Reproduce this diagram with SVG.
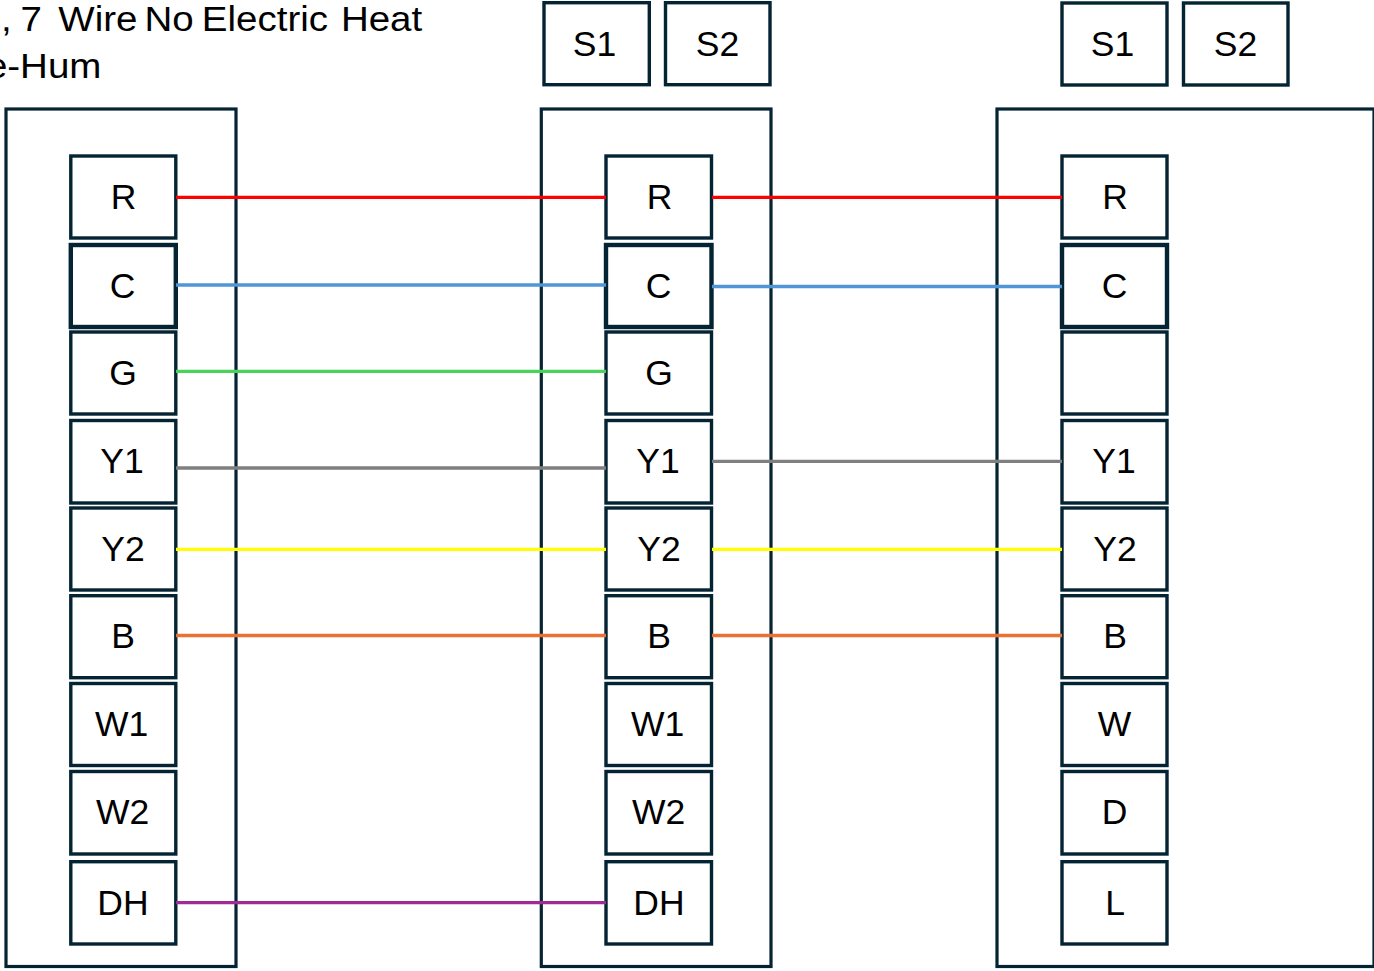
<svg xmlns="http://www.w3.org/2000/svg" width="1374" height="971" viewBox="0 0 1374 971">
<style>
.frame{fill:#fff;stroke:#042433;stroke-width:3.2}
.box{fill:#fff;stroke:#042433;stroke-width:3.4}
.thick{stroke-width:4.4}
text{font-family:"Liberation Sans",Arial,sans-serif;fill:#000}
.lab{font-size:35.500px;text-anchor:middle}
.title{font-size:35.500px}
.w{fill:none;stroke-width:3.300}
</style>
<rect width="1374" height="971" fill="#fff"/>
<g id="title" transform="scale(1.085 1)"><text class="title" y="30.700"><tspan x="1">, </tspan><tspan dx="-1.800">7 </tspan><tspan x="53.800">Wire </tspan><tspan x="133.200">No </tspan><tspan x="186">Electric </tspan><tspan x="314.200">Heat</tspan></text><text class="title" y="77.700"><tspan x="-13">e-Hum</tspan></text></g>
<g id="frames"><rect class="frame" x="6" y="109" width="230" height="857.500"/><rect class="frame" x="541.300" y="109" width="229.700" height="857.500"/><rect class="frame" x="997" y="109" width="377" height="857.500"/></g>
<g id="left">
<g id="l-r"><rect class="box" x="70.800" y="156" width="105" height="82"/><text class="lab" x="123.500" y="209">R</text></g>
<g id="l-c"><rect class="box thick" x="70.800" y="245" width="105" height="82"/><text class="lab" x="122.500" y="297.500">C</text></g>
<g id="l-g"><rect class="box" x="70.800" y="332" width="105" height="82"/><text class="lab" x="123" y="385.300">G</text></g>
<g id="l-y1"><rect class="box" x="70.800" y="420.500" width="105" height="82.500"/><text class="lab" x="122" y="473.300">Y1</text></g>
<g id="l-y2"><rect class="box" x="70.800" y="508" width="105" height="82"/><text class="lab" x="123" y="560.800">Y2</text></g>
<g id="l-b"><rect class="box" x="70.800" y="595.700" width="105" height="82"/><text class="lab" x="123" y="648.300">B</text></g>
<g id="l-w1"><rect class="box" x="70.800" y="683.500" width="105" height="82"/><text class="lab" x="121.500" y="736">W1</text></g>
<g id="l-w2"><rect class="box" x="70.800" y="771.500" width="105" height="82.500"/><text class="lab" x="122.500" y="824">W2</text></g>
<g id="l-dh"><rect class="box" x="70.800" y="861.700" width="105" height="82.300"/><text class="lab" x="123" y="915.300">DH</text></g>
</g>
<g id="mid">
<g id="m-s1"><rect class="box" x="544" y="2.700" width="105.300" height="82"/><text class="lab" x="594.500" y="56.200">S1</text></g>
<g id="m-s2"><rect class="box" x="665.500" y="2.700" width="104.500" height="82"/><text class="lab" x="717.500" y="56.200">S2</text></g>
<g id="m-r"><rect class="box" x="606" y="156" width="105.500" height="82"/><text class="lab" x="659.500" y="209">R</text></g>
<g id="m-c"><rect class="box thick" x="606" y="245" width="105.500" height="82"/><text class="lab" x="658.500" y="297.500">C</text></g>
<g id="m-g"><rect class="box" x="606" y="332" width="105.500" height="82"/><text class="lab" x="659" y="385.300">G</text></g>
<g id="m-y1"><rect class="box" x="606" y="420.500" width="105.500" height="82.500"/><text class="lab" x="658" y="473.300">Y1</text></g>
<g id="m-y2"><rect class="box" x="606" y="508" width="105.500" height="82"/><text class="lab" x="659" y="560.800">Y2</text></g>
<g id="m-b"><rect class="box" x="606" y="595.700" width="105.500" height="82"/><text class="lab" x="659" y="648.300">B</text></g>
<g id="m-w1"><rect class="box" x="606" y="683.500" width="105.500" height="82"/><text class="lab" x="657.500" y="736">W1</text></g>
<g id="m-w2"><rect class="box" x="606" y="771.500" width="105.500" height="82.500"/><text class="lab" x="658.500" y="824">W2</text></g>
<g id="m-dh"><rect class="box" x="606" y="861.700" width="105.500" height="82.300"/><text class="lab" x="659" y="915.300">DH</text></g>
</g>
<g id="right">
<g id="r-s1"><rect class="box" x="1062" y="3" width="105" height="82"/><text class="lab" x="1112.500" y="56.200">S1</text></g>
<g id="r-s2"><rect class="box" x="1183.500" y="3" width="104.500" height="82"/><text class="lab" x="1235.500" y="56.200">S2</text></g>
<g id="r-r"><rect class="box" x="1062" y="156" width="105" height="82"/><text class="lab" x="1115" y="209">R</text></g>
<g id="r-c"><rect class="box thick" x="1062" y="245" width="105" height="82"/><text class="lab" x="1114.500" y="297.500">C</text></g>
<g id="r-blank"><rect class="box" x="1062" y="332" width="105" height="82"/></g>
<g id="r-y1"><rect class="box" x="1062" y="420.500" width="105" height="82.500"/><text class="lab" x="1114" y="473.300">Y1</text></g>
<g id="r-y2"><rect class="box" x="1062" y="508" width="105" height="82"/><text class="lab" x="1115" y="560.800">Y2</text></g>
<g id="r-b"><rect class="box" x="1062" y="595.700" width="105" height="82"/><text class="lab" x="1115" y="648.300">B</text></g>
<g id="r-w"><rect class="box" x="1062" y="683.500" width="105" height="82"/><text class="lab" x="1114.500" y="736">W</text></g>
<g id="r-d"><rect class="box" x="1062" y="771.500" width="105" height="82.500"/><text class="lab" x="1114.500" y="824">D</text></g>
<g id="r-l"><rect class="box" x="1062" y="861.700" width="105" height="82.300"/><text class="lab" x="1115" y="915.300">L</text></g>
</g>
<g id="connectors">
<path class="w" stroke="#ff0000" d="M176 197.300H606M712 197.300H1062"/>
<path class="w" stroke="#4e95d9" d="M176 285H606M712 286.500H1062"/>
<path class="w" stroke="#47d459" d="M176 371.300H606"/>
<path class="w" stroke="#7f7f7f" d="M176 468H606M712 461.300H1062"/>
<path class="w" stroke="#ffff00" d="M176 549.300H606M712 549.300H1062"/>
<path class="w" stroke="#e97132" d="M176 635.500H606M712 635.500H1062"/>
<path class="w" stroke="#a02b93" d="M176 902.700H606"/>
</g>
</svg>
